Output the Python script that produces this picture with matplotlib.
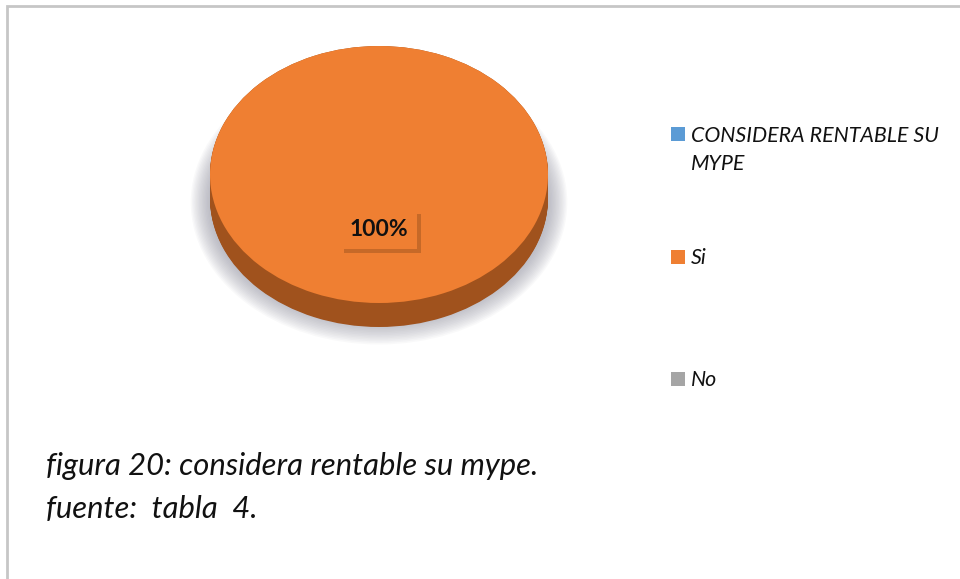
import numpy as np
import matplotlib.pyplot as plt
from matplotlib import patheffects as pe
from matplotlib.patches import Ellipse

# Data
categories = ['CONSIDERA RENTABLE SU\nMYPE', 'Si', 'No']
percentages = [0, 100, 0]
colors = ['#5B9BD5', '#EF7F32', '#A5A5A5']
side_colors = ['#3F6F9A', '#A0521D', '#787878']
caption_lines = ['figura 20: considera rentable su mype.', 'fuente:  tabla  4.']

W, H = 960, 579
fig = plt.figure(figsize=(9.6, 5.79), dpi=100)

# background axes in pixel coordinates (frame, legend, caption)
bg = fig.add_axes([0, 0, 1, 1])
bg.set_xlim(0, W)
bg.set_ylim(H, 0)
bg.axis('off')
bg.plot([7, 7, W + 5], [H + 5, 6, 6], color='#C6C6C6', lw=2.0, solid_joinstyle='miter')

# pie axes: top face spans x 210..548, y 46..303, side goes down to 327
left, right, top, bottom = 210, 548, 46, 327
ax = fig.add_axes([left / W, (H - bottom) / H, (right - left) / W, (bottom - top) / H])
depth = 24 / 128.5

# soft shadow under the pie
for k in range(14):
    ax.add_patch(Ellipse((0, -depth - 0.03), 2.02 + 0.016 * k, 1.9 + 0.024 * k,
                         color='#8E8E9C', alpha=0.05, lw=0, zorder=0, clip_on=False))

# side of the 3D pie
for off in np.linspace(depth, 0, 30):
    ax.pie(percentages, colors=side_colors, startangle=90, counterclock=False,
           center=(0, -off), radius=1, wedgeprops=dict(lw=0))
# top face
ax.pie(percentages, colors=colors, startangle=90, counterclock=False,
       radius=1, wedgeprops=dict(lw=0))
ax.set_aspect('auto')
ax.set_xlim(-1, 1)
ax.set_ylim(-1 - depth, 1)
ax.axis('off')

# data label
i_max = int(np.argmax(percentages))
lbl = ax.text(0, -0.43, f'{percentages[i_max]}%', ha='center', va='center',
              fontsize=16.5, fontweight='bold', family='Lato', color='#111111',
              bbox=dict(boxstyle='square,pad=0.4', fc=colors[i_max], ec='none'))
lbl.get_bbox_patch().set_path_effects([
    pe.SimplePatchShadow(offset=(2.5, -2.5), shadow_rgbFace='#6a3812', alpha=0.3),
    pe.Normal()])

# legend
for i, (cat, col) in enumerate(zip(categories, colors)):
    y = 134 + i * 122.5
    bg.scatter([678], [y], marker='s', s=100, color=col, lw=0)
    for j, line in enumerate(cat.split('\n')):
        bg.text(691, y + 7.5 + j * 28.5, line, fontsize=15.4, style='italic',
                family='Lato', color='#111111', va='baseline', ha='left')

# caption
for j, line in enumerate(caption_lines):
    bg.text(46, 475 + j * 43, line, fontsize=22.3, style='italic', family='Lato',
            color='#111111', va='baseline', ha='left')

fig.savefig('out.png', dpi=100)
